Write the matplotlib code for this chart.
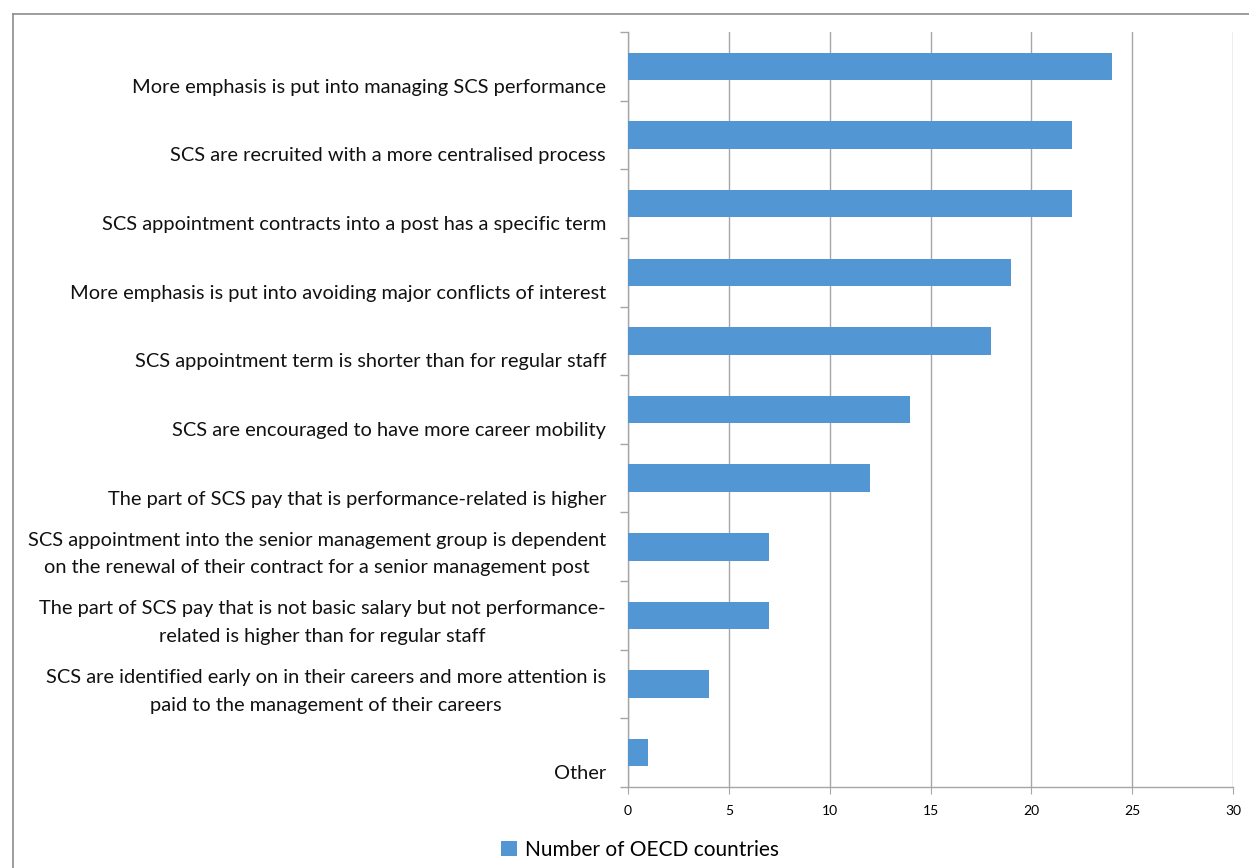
import matplotlib.pyplot as plt
import matplotlib.transforms as mtransforms
from matplotlib.lines import Line2D
from matplotlib.patches import Patch
import numpy as np

plt.rcParams['font.family'] = ['Lato', 'DejaVu Sans']

categories = [
    "More emphasis is put into managing SCS performance",
    "SCS are recruited with a more centralised process",
    "SCS appointment contracts into a post has a specific term",
    "More emphasis is put into avoiding major conflicts of interest",
    "SCS appointment term is shorter than for regular staff",
    "SCS are encouraged to have more career mobility",
    "The part of SCS pay that is performance-related is higher",
    "SCS appointment into the senior management group is dependent\non the renewal of their contract for a senior management post",
    "The part of SCS pay that is not basic salary but not performance-\nrelated is higher than for regular staff",
    "SCS are identified early on in their careers and more attention is\npaid to the management of their careers",
    "Other",
]
values = [24, 22, 22, 19, 18, 14, 12, 7, 7, 4, 1]
series_name = "Number of OECD countries"
x_ticks = [0, 5, 10, 15, 20, 25, 30]

bar_color = "#5297D3"
grid_color = "#A6A6A6"

fig = plt.figure(figsize=(12.49, 8.68), dpi=100)
ax = fig.add_axes([628 / 1249, 1 - 787 / 868, (1233 - 628) / 1249, (787 - 32) / 868])

y = np.arange(len(categories))
ax.barh(y, values, height=0.4, color=bar_color, zorder=3)

ax.set_xlim(0, 30)
ax.set_ylim(len(categories) - 0.5, -0.5)
ax.set_xticks(x_ticks)
ax.set_xticklabels([str(t) for t in x_ticks], fontsize=10)
ax.xaxis.grid(True, color=grid_color, linewidth=1, zorder=0)
ax.tick_params(axis='x', length=5, color=grid_color, pad=8)

ax.set_yticks(np.arange(-0.5, len(categories), 1))
ax.set_yticklabels([])
ax.tick_params(axis='y', length=6, color=grid_color, width=1)

for side in ['top', 'right']:
    ax.spines[side].set_visible(False)
for side in ['left', 'bottom']:
    ax.spines[side].set_color(grid_color)
    ax.spines[side].set_linewidth(1)

# category labels, bottom aligned within each band
offset = mtransforms.offset_copy(ax.get_yaxis_transform(), fig=fig, x=-22, y=0, units='dots')
for i, lab in enumerate(categories):
    ax.text(0, i + 0.5 - 0.07, lab, transform=offset, ha='right', va='bottom',
            multialignment='center', fontsize=14.4, linespacing=1.75, color='#111111')

handles = [Patch(facecolor=bar_color, edgecolor='none', label=series_name)]
fig.legend(handles=handles, loc='center', bbox_to_anchor=(640 / 1249, 1 - 850 / 868),
           frameon=False, fontsize=15, handlelength=0.75, handleheight=0.75, handletextpad=0.4)

# outer frame (left and top edges visible)
fig.add_artist(Line2D([13 / 1249, 13 / 1249], [0, 1 - 14 / 868], transform=fig.transFigure,
                      color='#8C8C8C', linewidth=1.2))
fig.add_artist(Line2D([13 / 1249, 1], [1 - 14 / 868, 1 - 14 / 868], transform=fig.transFigure,
                      color='#8C8C8C', linewidth=1.2))

fig.savefig("out.png", dpi=100)
